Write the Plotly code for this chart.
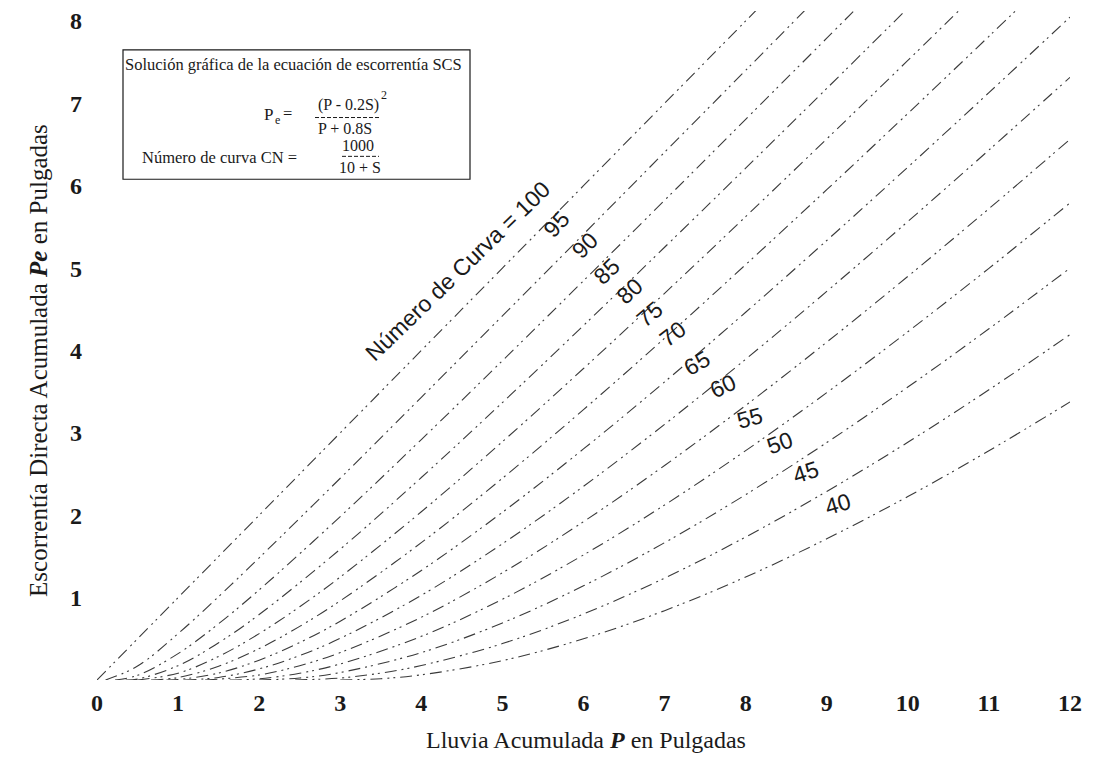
import plotly.graph_objects as go

# ---------------- data ----------------
CN_LABELS = ["100", "95", "90", "85", "80", "75", "70", "65", "60", "55", "50", "45", "40"]

P_100 = [0, 1, 2, 3, 4, 5, 6, 7, 8, 9]
PE_100 = [0, 1, 2, 3, 4, 5, 6, 7, 8, 9]

P_95 = [0.105, 0.5, 1, 1.5, 2, 3, 4, 5, 6, 7, 8, 9]
PE_95 = [0, 0.169, 0.563, 1.013, 1.483, 2.449, 3.431, 4.419, 5.411, 6.406, 7.401, 8.398]

P_90 = [0.222, 0.5, 1, 1.5, 2, 3, 4, 5, 6, 7, 8, 9, 10]
PE_90 = [0, 0.056, 0.320, 0.683, 1.094, 1.984, 2.919, 3.876, 4.846, 5.823, 6.806, 7.791, 8.780]

P_85 = [0.353, 0.5, 1, 1.5, 2, 3, 4, 5, 6, 7, 8, 9, 10]
PE_85 = [0, 0.011, 0.174, 0.452, 0.795, 1.588, 2.458, 3.368, 4.303, 5.253, 6.213, 7.181, 8.155]

P_80 = [0.5, 1, 1.5, 2, 2.5, 3, 4, 5, 6, 7, 8, 9, 10, 11]
PE_80 = [0, 0.083, 0.286, 0.563, 0.889, 1.250, 2.042, 2.893, 3.781, 4.694, 5.625, 6.568, 7.521, 8.481]

P_75 = [0.667, 1, 1.5, 2, 2.5, 3, 4, 5, 6, 7, 8, 9, 10, 11, 12]
PE_75 = [0, 0.030, 0.167, 0.381, 0.651, 0.961, 1.667, 2.449, 3.282, 4.149, 5.042, 5.952, 6.877, 7.813, 8.758]

P_70 = [0.857, 1, 1.5, 2, 2.5, 3, 4, 5, 6, 7, 8, 9, 10, 11, 12]
PE_70 = [0, 0.005, 0.084, 0.241, 0.455, 0.714, 1.330, 2.036, 2.805, 3.618, 4.464, 5.335, 6.225, 7.130, 8.047]

P_65 = [1.077, 1.5, 2, 2.5, 3, 4, 5, 6, 7, 8, 9, 10, 11, 12]
PE_65 = [0, 0.031, 0.135, 0.297, 0.506, 1.028, 1.654, 2.351, 3.103, 3.894, 4.717, 5.565, 6.433, 7.316]

P_60 = [1.333, 2, 2.5, 3, 4, 5, 6, 7, 8, 9, 10, 11, 12]
PE_60 = [0, 0.061, 0.174, 0.333, 0.762, 1.301, 1.922, 2.604, 3.333, 4.101, 4.899, 5.721, 6.564]

P_55 = [1.636, 2, 2.5, 3, 4, 5, 6, 7, 8, 9, 10, 11, 12]
PE_55 = [0, 0.015, 0.082, 0.195, 0.530, 0.980, 1.518, 2.124, 2.784, 3.488, 4.228, 4.997, 5.791]

P_50 = [2, 2.5, 3, 4, 5, 6, 7, 8, 9, 10, 11, 12]
PE_50 = [0, 0.024, 0.091, 0.333, 0.692, 1.143, 1.667, 2.250, 2.882, 3.556, 4.263, 5.000]

P_45 = [2.444, 3, 3.5, 4, 5, 6, 7, 8, 9, 10, 11, 12]
PE_45 = [0, 0.024, 0.084, 0.176, 0.442, 0.801, 1.237, 1.736, 2.289, 2.886, 3.523, 4.193]

P_40 = [3, 3.5, 4, 5, 6, 7, 8, 9, 10, 11, 12]
PE_40 = [0, 0.016, 0.063, 0.235, 0.500, 0.842, 1.250, 1.714, 2.227, 2.783, 3.375]

CURVES = [
    (P_100, PE_100), (P_95, PE_95), (P_90, PE_90), (P_85, PE_85), (P_80, PE_80),
    (P_75, PE_75), (P_70, PE_70), (P_65, PE_65), (P_60, PE_60), (P_55, PE_55),
    (P_50, PE_50), (P_45, PE_45), (P_40, PE_40),
]

# curve-label positions (data units) and angles
LABEL_X = [4.45, 5.67, 6.02, 6.29, 6.57, 6.82, 7.10, 7.40, 7.72, 8.05, 8.42, 8.75, 9.14]
LABEL_Y = [4.96, 5.53, 5.28, 4.96, 4.72, 4.44, 4.20, 3.85, 3.57, 3.18, 2.88, 2.52, 2.14]
LABEL_ANGLE = [-44, -48, -45, -44, -42, -40, -38, -30, -25, -15, -20, -18, -16]

X_TICKS = list(range(0, 13))
Y_TICKS = list(range(1, 9))

# ---------------- layout geometry ----------------
OFF = 8                       # page body margin of the browser
W, H = 1094 - OFF, 774 - OFF
ML, MR, MT, MB = 89, 24, 0, 94
PW, PH = W - ML - MR, H - MT - MB


def px_x(px):
    return (px - OFF - ML) / PW


def px_y(py):
    return (H - MB - (py - OFF)) / PH


SERIF = "Liberation Serif"
SANS = "Liberation Sans"
INK = "#1a1a1a"

fig = go.Figure()
for (xs, ys), lab in zip(CURVES, CN_LABELS):
    fig.add_trace(go.Scatter(
        x=xs, y=ys, mode="lines", name="CN " + lab,
        line=dict(color="#3a3a3a", width=1.1, shape="spline",
                  dash="12px,5px,2px,4px,2px,5px"),
        hoverinfo="skip", showlegend=False,
    ))

# curve labels
for i, lab in enumerate(CN_LABELS):
    txt = "Número de Curva = 100" if lab == "100" else lab
    fig.add_annotation(x=LABEL_X[i], y=LABEL_Y[i], text=txt, showarrow=False,
                       textangle=LABEL_ANGLE[i],
                       font=dict(family=SANS, size=23, color=INK))

# axis titles
fig.add_annotation(xref="paper", yref="paper", x=px_x(586), y=px_y(755),
                   text="Lluvia Acumulada <b><i>P</i></b> en Pulgadas", showarrow=False,
                   font=dict(family=SERIF, size=24, color=INK))
fig.add_annotation(xref="paper", yref="paper", x=px_x(23), y=px_y(359),
                   text="Escorrentía Directa Acumulada <b><i>Pe</i></b> en Pulgadas",
                   showarrow=False, textangle=-90,
                   font=dict(family=SERIF, size=25, color=INK))

# formula box
fig.add_shape(type="rect", xref="paper", yref="paper",
              x0=px_x(123), x1=px_x(470), y0=px_y(177), y1=px_y(47),
              line=dict(color=INK, width=1.2), fillcolor="white", layer="above")


def box_text(px, py, text, anchor="center", size=16.5):
    fig.add_annotation(xref="paper", yref="paper", x=px_x(px), y=px_y(py),
                       xanchor=anchor, yanchor="middle", text=text, showarrow=False,
                       borderpad=0,
                       font=dict(family=SERIF, size=size, color=INK))


box_text(124, 62, "Solución gráfica de la ecuación de escorrentía SCS", "left")
box_text(263, 112, "P", "left", 17)
box_text(274, 117, "e", "left", 12)
box_text(282, 111, "=", "left", 16.5)
box_text(317, 102, "(P - 0.2S)", "left", 16)
box_text(380, 92, "2", "left", 12)
box_text(345, 126, "P + 0.8S", "center", 16)
box_text(298, 155, "Número de curva CN =", "right")
box_text(358, 143, "1000", "center", 16)
box_text(360, 165, "10 + S", "center", 16)

fig.add_shape(type="line", xref="paper", yref="paper",
              x0=px_x(315), x1=px_x(379), y0=px_y(115), y1=px_y(115),
              line=dict(color=INK, width=1, dash="4px,2px"), layer="above")
fig.add_shape(type="line", xref="paper", yref="paper",
              x0=px_x(342), x1=px_x(379), y0=px_y(154), y1=px_y(154),
              line=dict(color=INK, width=1, dash="4px,2px"), layer="above")

y_top = 8 + (18 - OFF) / 82.7
fig.update_layout(
    width=W, height=H,
    margin=dict(l=ML, r=MR, t=MT, b=MB, pad=0),
    paper_bgcolor="white", plot_bgcolor="white",
    xaxis=dict(range=[0, 12], tickvals=X_TICKS, showgrid=False, zeroline=False,
               showline=False, ticks="", ticklabelstandoff=6,
               ticklabeloverflow="allow",
               tickfont=dict(family=SERIF, size=24, color=INK, weight="bold")),
    yaxis=dict(range=[0, y_top], tickvals=Y_TICKS, showgrid=False, zeroline=False,
               showline=False, ticks="", ticklabelstandoff=14,
               ticklabeloverflow="allow",
               tickfont=dict(family=SERIF, size=24, color=INK, weight="bold")),
)

fig.write_html("out.html")
